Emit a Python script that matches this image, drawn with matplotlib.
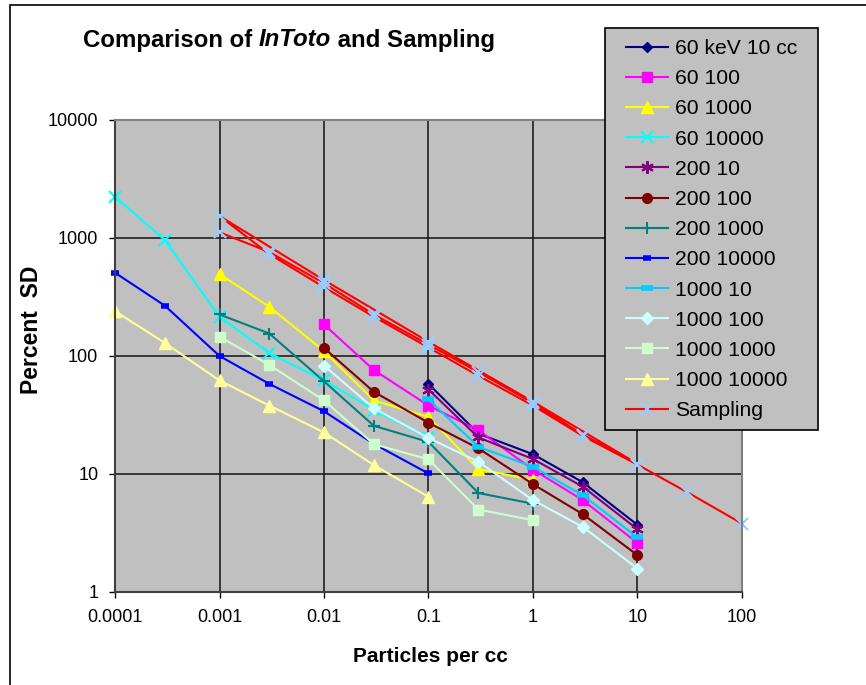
import matplotlib
matplotlib.use("Agg")
from matplotlib import pyplot as plt
from matplotlib.patches import Rectangle
from matplotlib.ticker import FixedLocator, FixedFormatter, NullLocator

plt.rcParams['font.family'] = ['Liberation Sans', 'DejaVu Sans']

# tick labels
x_ticks = [0.0001, 0.001, 0.01, 0.1, 1, 10, 100]
x_tick_labels = ['0.0001', '0.001', '0.01', '0.1', '1', '10', '100']
y_ticks = [1, 10, 100, 1000, 10000]
y_tick_labels = ['1', '10', '100', '1000', '10000']

# particles per cc for each series
x_low = [0.0001, 0.0003, 0.001, 0.003, 0.01, 0.03, 0.1]
x_mid = [0.001, 0.003, 0.01, 0.03, 0.1, 0.3, 1]
x_cen = [0.01, 0.03, 0.1, 0.3, 1, 3, 10]
x_high = [0.1, 0.3, 1, 3, 10]

# percent SD
sd_60_10 = [58, 22, 14.7, 8.5, 3.7]
sd_60_100 = [185, 76, 38, 23.5, 10.9, 6.0, 2.6]
sd_60_1000 = [495, 261, 110, 42, 30.5, 11, 8.9]
sd_60_10000 = [2240, 960, 215, 106, 62, 35, 20]
sd_200_10 = [52, 20.4, 13.4, 7.8, 3.4]
sd_200_100 = [117, 49.7, 27.2, 16.5, 8.2, 4.56, 2.05]
sd_200_1000 = [225, 155, 61, 25.6, 18.7, 6.9, 5.6]
sd_200_10000 = [508, 267, 100, 58, 34, 18, 10.1]
sd_1000_10 = [42.8, 17, 11.5, 6.6, 2.9]
sd_1000_100 = [83, 36, 20.2, 12.7, 6.0, 3.56, 1.58]
sd_1000_1000 = [146, 84, 42, 17.9, 13.3, 5.0, 4.06]
sd_1000_10000 = [240, 129, 62, 38, 22.5, 11.9, 6.4]

# sampling is one series that runs back and forth over the range
x_sampling = [100, 30, 10, 3, 1, 0.3, 0.1, 0.03, 0.01, 0.003, 0.001,
              0.01, 0.1, 1, 10, 3, 1, 0.3, 0.1, 0.03, 0.01, 0.003, 0.001]
sd_sampling = [3.8, 7.0, 12, 21, 38, 68, 118, 215, 383, 730, 1535,
               440, 132, 41, 12.2, 21.5, 40, 73, 125, 225, 413, 760, 1117]

series = [
    # label, x, y, color, marker, size, edge width
    ('60 keV 10 cc', x_high, sd_60_10, '#000080', 'D', 5, 1),
    ('60 100', x_cen, sd_60_100, '#FF00FF', 's', 7, 1),
    ('60 1000', x_mid, sd_60_1000, '#FFFF00', '^', 8, 1),
    ('60 10000', x_low, sd_60_10000, '#00FFFF', 'x', 8, 1.5),
    ('200 10', x_high, sd_200_10, '#800080', (6, 2, 0), 9, 1.5),
    ('200 100', x_cen, sd_200_100, '#800000', 'o', 7, 1),
    ('200 1000', x_mid, sd_200_1000, '#008080', '+', 9, 1.5),
    ('200 10000', x_low, sd_200_10000, '#0000FF', '_', 6, 4),
    ('1000 10', x_high, sd_1000_10, '#00CCFF', '_', 9, 4),
    ('1000 100', x_cen, sd_1000_100, '#CCFFFF', 'D', 6, 1),
    ('1000 1000', x_mid, sd_1000_1000, '#CCFFCC', 's', 7, 1),
    ('1000 10000', x_low, sd_1000_10000, '#FFFF99', '^', 8, 1),
]

fig = plt.figure(figsize=(8.66, 6.85), dpi=100)
fig.patch.set_facecolor('white')

# outer chart border
fig.patches.append(Rectangle((10 / 866, -0.5), 2, 1.5 - 5 / 685, transform=fig.transFigure,
                             fill=False, edgecolor='black', linewidth=1.2))

ax = fig.add_axes([115 / 866, 93 / 685, 627 / 866, 472 / 685])
ax.set_facecolor('#C0C0C0')
ax.set_xscale('log')
ax.set_yscale('log')

for label, xs, ys, color, marker, ms, mew in series:
    ax.plot(xs, ys, color=color, lw=1.5, marker=marker, markersize=ms,
            markerfacecolor=color, markeredgecolor=color, markeredgewidth=mew,
            label=label, clip_on=False)

ax.plot(x_sampling, sd_sampling, color='#FF0000', lw=1.5, marker='x', markersize=9,
        markeredgecolor='#99CCFF', markeredgewidth=1.5, label='Sampling', clip_on=False)

ax.set_xlim(0.0001, 100)
ax.set_ylim(1, 10000)
ax.xaxis.set_major_locator(FixedLocator(x_ticks))
ax.xaxis.set_major_formatter(FixedFormatter(x_tick_labels))
ax.yaxis.set_major_locator(FixedLocator(y_ticks))
ax.yaxis.set_major_formatter(FixedFormatter(y_tick_labels))
ax.xaxis.set_minor_locator(NullLocator())
ax.yaxis.set_minor_locator(NullLocator())
ax.tick_params(axis='both', direction='out', length=4, width=1, color='black',
               labelsize=13, pad=8)
ax.grid(True, which='major', color='#202020', linewidth=1.2)
ax.set_axisbelow(True)

for side in ['top', 'right']:
    ax.spines[side].set_color('#808080')
    ax.spines[side].set_linewidth(1.5)
for side in ['left', 'bottom']:
    ax.spines[side].set_color('#404040')
    ax.spines[side].set_linewidth(1.5)

fig.text(430 / 866, 1 - 656 / 685, 'Particles per cc', ha='center', va='center',
         fontsize=15, fontweight='bold')
fig.text(32 / 866, 1 - 330 / 685, 'Percent  SD', ha='center', va='center',
         rotation=90, fontsize=16.5, fontweight='bold')

# title with the italic word
renderer = fig.canvas.get_renderer()
tx = 83 / 866
ty = 1 - 40 / 685
parts = [('Comparison of ', 'normal'), ('InToto', 'italic'), (' and Sampling', 'normal')]
for text, style in parts:
    t = fig.text(tx, ty, text, ha='left', va='center', fontsize=17.3,
                 fontweight='bold', fontstyle=style)
    bb = t.get_window_extent(renderer=renderer)
    tx = tx + bb.width / fig.bbox.width

# legend box drawn by hand so the padding matches
fig.patches.append(Rectangle((605 / 866, 1 - 430 / 685), 213 / 866, 402 / 685,
                             transform=fig.transFigure, facecolor='#C0C0C0',
                             edgecolor='black', linewidth=1.2, zorder=5))
leg = fig.legend(loc='upper left', bbox_to_anchor=(626 / 866, 1 - 39 / 685),
                 fontsize=15.2, frameon=False, borderaxespad=0, borderpad=0,
                 labelspacing=0.53, handlelength=2.0, handletextpad=0.34)
leg.set_zorder(6)

fig.savefig('out.png', dpi=100)
